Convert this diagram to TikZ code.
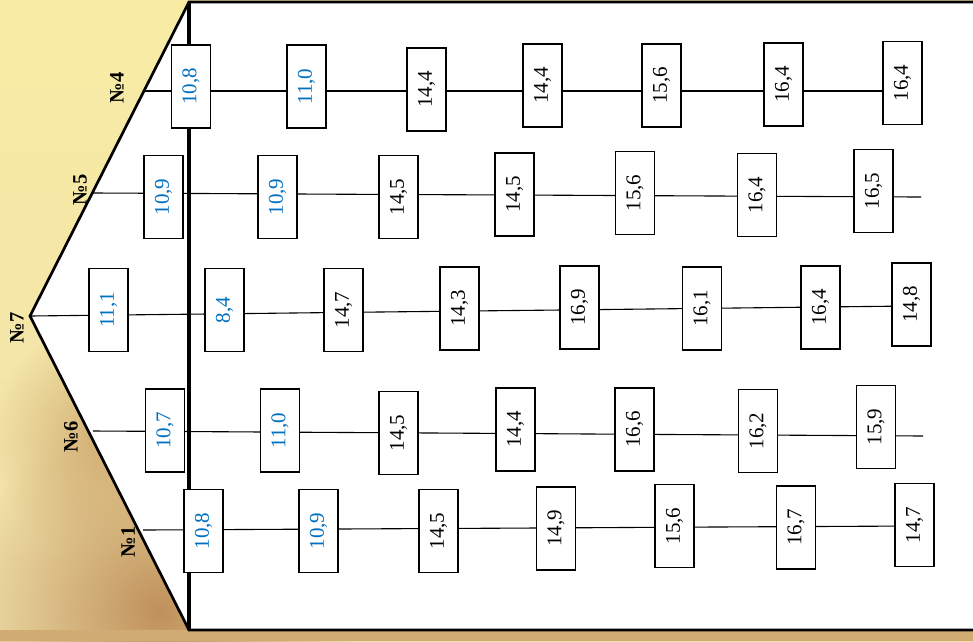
\documentclass[tikz,border=0pt]{standalone}
\usepackage{fontspec}
\setmainfont{Liberation Serif}
\usetikzlibrary{fadings}
\tikzfading[name=softblob, inner color=transparent!0, outer color=transparent!100]
\definecolor{numblue}{RGB}{0,112,192}
\definecolor{bgtop}{RGB}{248,236,165}
\definecolor{bgmid}{RGB}{252,250,226}
\definecolor{bgbot}{RGB}{240,225,170}
\definecolor{bgbrown}{RGB}{192,145,92}
\begin{document}
\begin{tikzpicture}[x=1pt,y=-1pt,
  box/.style={draw, line width=1.7pt, fill=white, minimum width=39pt, minimum height=83pt, inner sep=0pt, font=\fontsize{21}{25}\selectfont},
  bl/.style={box, text=numblue},
  conn/.style={line width=1.1pt},
  lab/.style={font=\bfseries\fontsize{20.5}{24}\selectfont, inner sep=0pt},
  edge/.style={line width=2.7pt, line join=miter}]
\useasboundingbox (0,0) rectangle (973,641);
\clip (0,0) rectangle (973,641);
% background
\shade[top color=bgtop, middle color=bgmid, bottom color=bgbot] (0,0) rectangle (973,641);
\fill[bgbrown, path fading=softblob] (160,610) circle (200);
\fill[bgbrown!70!bgtop, path fading=softblob] (110,440) circle (120);
\fill[bgbrown!70!bgtop] (0,630) rectangle (973,641);
% house outline
\filldraw[edge, fill=white] (189,2) -- (990,2) -- (990,630) -- (189,630) -- (30,316) -- cycle;
\coordinate (vt) at (189,2);
\coordinate (vb) at (189,630);
\draw[line width=3.2pt] (vt) -- (vb);

% line coordinates
\coordinate (a0) at (143,91);
\coordinate (a1) at (191,91);
\coordinate (a2) at (306.5,91);
\coordinate (a3) at (426.5,91);
\coordinate (a4) at (542.5,91);
\coordinate (a5) at (661.5,91);
\coordinate (a6) at (783.5,91);
\coordinate (a7) at (902.5,91);
\draw[conn] (a0) -- (a1) -- (a2) -- (a3) -- (a4) -- (a5) -- (a6) -- (a7);

\coordinate (b0) at (93,193);
\coordinate (b1) at (163.5,193.3);
\coordinate (b2) at (277.5,193.9);
\coordinate (b3) at (398.5,194.5);
\coordinate (b4) at (514.5,195.0);
\coordinate (b5) at (635,195.6);
\coordinate (b6) at (757,196.2);
\coordinate (b7) at (873.5,196.8);
\coordinate (b8) at (921,197);
\draw[conn] (b0) -- (b1) -- (b2) -- (b3) -- (b4) -- (b5) -- (b6) -- (b7) -- (b8);

\coordinate (c0) at (30,316);
\coordinate (c1) at (108.5,315.1);
\coordinate (c2) at (224.5,313.8);
\coordinate (c3) at (343.5,312.4);
\coordinate (c4) at (459.5,311.1);
\coordinate (c5) at (579.5,309.8);
\coordinate (c6) at (702,308.4);
\coordinate (c7) at (820.5,307.0);
\coordinate (c8) at (911.5,306.0);
\draw[conn] (c0) -- (c1) -- (c2) -- (c3) -- (c4) -- (c5) -- (c6) -- (c7) -- (c8);

\coordinate (d0) at (93,431);
\coordinate (d1) at (165,431.4);
\coordinate (d2) at (280,432.1);
\coordinate (d3) at (398.5,432.8);
\coordinate (d4) at (515.5,433.5);
\coordinate (d5) at (634.5,434.3);
\coordinate (d6) at (758,435.0);
\coordinate (d7) at (876,435.7);
\coordinate (d8) at (923,436);
\draw[conn] (d0) -- (d1) -- (d2) -- (d3) -- (d4) -- (d5) -- (d6) -- (d7) -- (d8);

\coordinate (e0) at (143,530);
\coordinate (e1) at (203.5,529.7);
\coordinate (e2) at (318.5,529.1);
\coordinate (e3) at (438.5,528.5);
\coordinate (e4) at (556,527.9);
\coordinate (e5) at (674.5,527.2);
\coordinate (e6) at (796,526.6);
\coordinate (e7) at (914.5,526);
\draw[conn] (e0) -- (e1) -- (e2) -- (e3) -- (e4) -- (e5) -- (e6) -- (e7);

% boxes row 4
\node[bl]  (A1) at (191,86.5)   {\rotatebox{90}{10,8}};
\node[bl]  (A2) at (306.5,86.5) {\rotatebox{90}{11,0}};
\node[box] (A3) at (426.5,89.5) {\rotatebox{90}{14,4}};
\node[box] (A4) at (542.5,85.5) {\rotatebox{90}{14,4}};
\node[box] (A5) at (661.5,85.5) {\rotatebox{90}{15,6}};
\node[box] (A6) at (783.5,84.5) {\rotatebox{90}{16,4}};
\node[box] (A7) at (902.5,83)   {\rotatebox{90}{16,4}};
% row 5
\node[bl]  (B1) at (163.5,197) {\rotatebox{90}{10,9}};
\node[bl]  (B2) at (277.5,197) {\rotatebox{90}{10,9}};
\node[box] (B3) at (398.5,197) {\rotatebox{90}{14,5}};
\node[box] (B4) at (514.5,194.5) {\rotatebox{90}{14,5}};
\node[box] (B5) at (635,193)   {\rotatebox{90}{15,6}};
\node[box] (B6) at (757,195)   {\rotatebox{90}{16,4}};
\node[box] (B7) at (873.5,191) {\rotatebox{90}{16,5}};
% row 7
\node[bl]  (C1) at (108.5,310) {\rotatebox{90}{11,1}};
\node[bl]  (C2) at (224.5,310) {\rotatebox{90}{8,4}};
\node[box] (C3) at (343.5,310) {\rotatebox{90}{14,7}};
\node[box] (C4) at (459.5,308.5) {\rotatebox{90}{14,3}};
\node[box] (C5) at (579.5,307.5) {\rotatebox{90}{16,9}};
\node[box] (C6) at (702,308.5)   {\rotatebox{90}{16,1}};
\node[box] (C7) at (820.5,307.5) {\rotatebox{90}{16,4}};
\node[box] (C8) at (911.5,304.5) {\rotatebox{90}{14,8}};
% row 6
\node[bl]  (D1) at (165,430.5) {\rotatebox{90}{10,7}};
\node[bl]  (D2) at (280,430.5) {\rotatebox{90}{11,0}};
\node[box] (D3) at (398.5,433) {\rotatebox{90}{14,5}};
\node[box] (D4) at (515.5,429.5) {\rotatebox{90}{14,4}};
\node[box] (D5) at (634.5,429.5) {\rotatebox{90}{16,6}};
\node[box] (D6) at (758,431)   {\rotatebox{90}{16,2}};
\node[box] (D7) at (876,427)   {\rotatebox{90}{15,9}};
% row 1
\node[bl]  (E1) at (203.5,531) {\rotatebox{90}{10,8}};
\node[bl]  (E2) at (318.5,531) {\rotatebox{90}{10,9}};
\node[box] (E3) at (438.5,531) {\rotatebox{90}{14,5}};
\node[box] (E4) at (556,528.5) {\rotatebox{90}{14,9}};
\node[box] (E5) at (674.5,526) {\rotatebox{90}{15,6}};
\node[box] (E6) at (796,527.5) {\rotatebox{90}{16,7}};
\node[box] (E7) at (914.5,525) {\rotatebox{90}{14,7}};

% labels
\node[lab] (L4) at (117,88)  {\rotatebox{90}{№4}};
\node[lab] (L5) at (80,190)  {\rotatebox{90}{№5}};
\node[lab] (L7) at (17,328)  {\rotatebox{90}{№7}};
\node[lab] (L6) at (71,437)  {\rotatebox{90}{№6}};
\node[lab] (L1) at (128,542) {\rotatebox{90}{№1}};
\end{tikzpicture}
\end{document}
